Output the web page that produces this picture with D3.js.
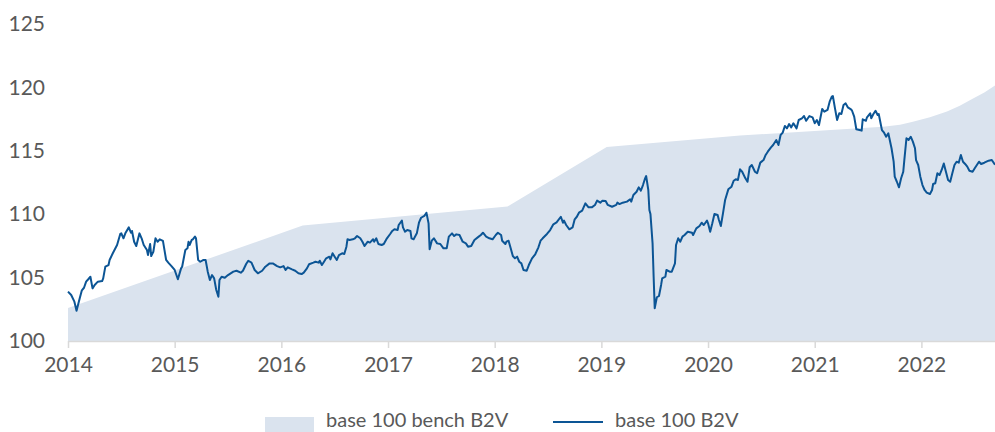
<!DOCTYPE html>
<html lang="en">
<head>
<meta charset="UTF-8">
<script src="https://d3js.org/d3.v7.min.js"></script>
<title>base 100 B2V</title>
<style>
  body { margin: 0; background: #fff; }
  text { font-family: Lato, "Open Sans", sans-serif; fill: #595959; }
</style>
</head>
<body>
<div id="chart"></div>
<script>
// tick labels
const yearTicks = [2014, 2015, 2016, 2017, 2018, 2019, 2020, 2021, 2022];
const valueTicks = [100, 105, 110, 115, 120, 125];

// benchmark (area)
const benchYears  = [2014.00, 2016.20, 2018.12, 2019.05, 2020.30, 2021.64, 2021.80, 2021.92, 2022.08, 2022.24, 2022.36, 2022.48, 2022.59, 2022.69];
const benchValues = [102.6,   109.1,   110.6,   115.3,   116.2,   116.9,   117.05,  117.3,   117.65,  118.1,   118.55,  119.1,   119.6,   120.15];

// B2V (line)
const b2vYears = [
  // 2014
  2014.00, 2014.03, 2014.06, 2014.08, 2014.11, 2014.13, 2014.15, 2014.17, 2014.19, 2014.21,
  2014.23, 2014.25, 2014.28, 2014.32, 2014.33, 2014.35, 2014.38, 2014.39, 2014.42, 2014.46,
  2014.49, 2014.50, 2014.52, 2014.54, 2014.57, 2014.59, 2014.60, 2014.62, 2014.64, 2014.67,
  2014.69, 2014.71, 2014.74, 2014.75, 2014.77, 2014.78, 2014.80, 2014.82, 2014.84, 2014.86,
  2014.89, 2014.92, 2014.94, 2014.97,
  // 2015
  2015.00, 2015.03, 2015.06, 2015.07, 2015.10, 2015.12, 2015.13, 2015.14, 2015.16, 2015.17,
  2015.19, 2015.20, 2015.22, 2015.24, 2015.27, 2015.29, 2015.31, 2015.33, 2015.35, 2015.37,
  2015.39, 2015.41, 2015.42, 2015.44, 2015.47, 2015.50, 2015.55, 2015.58, 2015.62, 2015.64,
  2015.67, 2015.69, 2015.72, 2015.75, 2015.78, 2015.82, 2015.85, 2015.89, 2015.92, 2015.96,
  2015.99,
  // 2016
  2016.02, 2016.04, 2016.06, 2016.10, 2016.13, 2016.16, 2016.19, 2016.21, 2016.24, 2016.26,
  2016.30, 2016.32, 2016.35, 2016.36, 2016.38, 2016.40, 2016.42, 2016.45, 2016.46, 2016.48,
  2016.50, 2016.52, 2016.54, 2016.57, 2016.59, 2016.61, 2016.62, 2016.64, 2016.67, 2016.69,
  2016.71, 2016.74, 2016.76, 2016.78, 2016.81, 2016.83, 2016.86, 2016.87, 2016.89, 2016.91,
  2016.94, 2016.96, 2016.99,
  // 2017
  2017.02, 2017.04, 2017.06, 2017.09, 2017.10, 2017.13, 2017.14, 2017.16, 2017.18, 2017.21,
  2017.22, 2017.24, 2017.27, 2017.29, 2017.31, 2017.34, 2017.36, 2017.38, 2017.39, 2017.41,
  2017.43, 2017.46, 2017.49, 2017.52, 2017.55, 2017.57, 2017.60, 2017.62, 2017.64, 2017.67,
  2017.70, 2017.73, 2017.75, 2017.78, 2017.81, 2017.85, 2017.87, 2017.89, 2017.92, 2017.95,
  2017.98,
  // 2018
  2018.01, 2018.03, 2018.06, 2018.07, 2018.10, 2018.11, 2018.13, 2018.15, 2018.17, 2018.19,
  2018.21, 2018.23, 2018.25, 2018.27, 2018.30, 2018.32, 2018.35, 2018.38, 2018.41, 2018.43,
  2018.45, 2018.49, 2018.52, 2018.55, 2018.58, 2018.62, 2018.64, 2018.65, 2018.67, 2018.70,
  2018.73, 2018.75, 2018.77, 2018.79, 2018.82, 2018.85, 2018.88, 2018.91, 2018.94, 2018.96,
  2018.99,
  // 2019
  2019.01, 2019.04, 2019.06, 2019.10, 2019.14, 2019.15, 2019.17, 2019.20, 2019.24, 2019.27,
  2019.28, 2019.30, 2019.33, 2019.35, 2019.37, 2019.39, 2019.41, 2019.42, 2019.44, 2019.45,
  2019.46, 2019.48, 2019.49, 2019.50, 2019.52, 2019.54, 2019.56, 2019.57, 2019.60, 2019.61,
  2019.64, 2019.66, 2019.69, 2019.70, 2019.72, 2019.74, 2019.76, 2019.78, 2019.81, 2019.85,
  2019.86, 2019.89, 2019.92, 2019.94, 2019.96, 2019.99,
  // 2020
  2020.00, 2020.02, 2020.04, 2020.06, 2020.09, 2020.10, 2020.12, 2020.14, 2020.16, 2020.19,
  2020.22, 2020.24, 2020.26, 2020.28, 2020.30, 2020.32, 2020.35, 2020.37, 2020.39, 2020.41,
  2020.44, 2020.46, 2020.49, 2020.52, 2020.54, 2020.56, 2020.59, 2020.61, 2020.64, 2020.66,
  2020.68, 2020.70, 2020.72, 2020.74, 2020.76, 2020.78, 2020.80, 2020.83, 2020.85, 2020.88,
  2020.90, 2020.92, 2020.95, 2020.98,
  // 2021
  2021.00, 2021.02, 2021.04, 2021.07, 2021.09, 2021.12, 2021.14, 2021.16, 2021.17, 2021.19,
  2021.21, 2021.23, 2021.25, 2021.27, 2021.29, 2021.31, 2021.34, 2021.35, 2021.37, 2021.39,
  2021.42, 2021.44, 2021.45, 2021.48, 2021.49, 2021.52, 2021.53, 2021.55, 2021.57, 2021.59,
  2021.60, 2021.63, 2021.65, 2021.67, 2021.69, 2021.70, 2021.72, 2021.74, 2021.75, 2021.77,
  2021.79, 2021.81, 2021.83, 2021.84, 2021.86, 2021.88, 2021.90, 2021.92, 2021.94, 2021.95,
  2021.97, 2021.99,
  // 2022
  2022.01, 2022.03, 2022.05, 2022.08, 2022.10, 2022.11, 2022.13, 2022.15, 2022.17, 2022.19,
  2022.21, 2022.23, 2022.25, 2022.27, 2022.29, 2022.31, 2022.33, 2022.35, 2022.37, 2022.39,
  2022.41, 2022.43, 2022.45, 2022.48, 2022.50, 2022.52, 2022.54, 2022.56, 2022.59, 2022.61,
  2022.63, 2022.66, 2022.69
];
const b2vValues = [
  // 2014
  103.89, 103.63, 103.10, 102.39, 103.37, 104.00, 104.20, 104.68, 104.87, 105.07,
  104.15, 104.42, 104.68, 104.73, 104.94, 105.86, 105.99, 106.39, 106.92, 107.57,
  108.44, 108.49, 108.10, 108.54, 108.96, 108.54, 108.68, 107.83, 107.49, 108.49,
  108.10, 107.57, 107.18, 106.78, 107.65, 106.70, 107.04, 108.10, 107.83, 108.02,
  107.89, 106.39, 106.18, 105.91,
  // 2015
  105.60, 104.87, 105.73, 105.86, 107.18, 107.31, 107.83, 107.57, 107.97, 108.02,
  108.23, 108.10, 106.39, 106.25, 106.39, 106.39, 105.47, 104.81, 105.20, 104.94,
  104.02, 103.49, 104.81, 105.07, 104.99, 105.20, 105.47, 105.54, 105.39, 105.54,
  106.07, 106.33, 106.18, 105.60, 105.34, 105.54, 105.86, 106.12, 106.12, 105.91,
  105.81,
  // 2016
  105.91, 105.60, 105.81, 105.65, 105.54, 105.34, 105.28, 105.39, 105.73, 106.05,
  106.18, 106.25, 106.18, 106.33, 105.99, 106.25, 106.52, 106.65, 106.44, 106.92,
  106.65, 106.39, 106.78, 106.92, 106.86, 107.44, 108.02, 107.97, 108.02, 108.10,
  108.28, 108.10, 107.83, 107.49, 107.83, 107.76, 108.02, 107.83, 108.10, 107.65,
  107.57, 107.65, 108.10,
  // 2017
  108.44, 108.68, 108.81, 108.75, 109.15, 109.49, 108.96, 108.62, 108.75, 108.68,
  108.10, 108.02, 108.49, 109.33, 109.72, 109.86, 110.12, 109.28, 107.23, 107.91,
  108.10, 107.70, 107.65, 107.31, 107.31, 108.23, 108.49, 108.28, 108.41, 108.36,
  107.83, 107.70, 107.44, 107.49, 107.97, 108.23, 108.36, 108.54, 108.23, 108.10,
  108.02,
  // 2018
  108.36, 108.54, 108.36, 107.91, 107.65, 107.83, 107.91, 107.31, 106.70, 106.52,
  106.65, 106.25, 106.12, 105.60, 105.54, 105.99, 106.52, 106.84, 107.39, 107.91,
  108.10, 108.44, 108.75, 109.20, 109.36, 109.80, 109.33, 109.49, 109.15, 108.81,
  108.96, 109.60, 109.80, 110.12, 110.28, 110.86, 110.54, 110.54, 110.73, 111.07,
  110.91,
  // 2019
  111.07, 111.04, 110.73, 110.59, 110.73, 110.91, 110.80, 110.91, 110.99, 111.18,
  110.99, 111.51, 111.77, 112.12, 111.85, 112.30, 112.83, 113.01, 111.91, 110.33,
  110.02, 107.70, 105.07, 102.58, 103.45, 103.55, 104.42, 104.94, 105.07, 105.60,
  105.47, 105.47, 106.12, 107.57, 108.10, 107.83, 108.23, 108.36, 108.62, 108.54,
  108.36, 108.88, 109.07, 109.33, 109.15, 109.49,
  // 2020
  109.28, 108.62, 109.28, 110.02, 109.94, 109.60, 109.07, 110.07, 111.12, 111.96,
  112.17, 112.64, 112.75, 112.70, 113.54, 113.35, 112.83, 112.56, 113.70, 113.88,
  113.35, 113.23, 114.07, 114.27, 114.67, 114.93, 115.27, 115.46, 115.85, 115.46,
  116.25, 116.43, 116.96, 116.77, 117.11, 116.85, 117.17, 116.77, 117.43, 117.56,
  117.74, 117.37, 117.74, 117.64,
  // 2021
  117.17, 117.43, 117.03, 118.30, 118.08, 118.22, 118.87, 119.27, 119.32, 118.35,
  117.43, 117.96, 117.90, 118.61, 118.74, 118.43, 118.27, 118.16, 117.69, 116.70,
  116.64, 116.59, 117.48, 117.37, 117.64, 117.96, 117.56, 117.90, 118.16, 117.82,
  117.90, 116.64, 116.43, 116.11, 116.38, 115.99, 115.20, 114.14, 112.96, 112.56,
  112.12, 112.83, 113.35, 114.27, 115.99, 115.85, 116.11, 115.72, 115.20, 114.27,
  113.88, 112.96,
  // 2022
  112.30, 111.91, 111.70, 111.59, 111.91, 112.38, 112.44, 113.23, 113.09, 113.49,
  114.00, 113.35, 112.70, 112.56, 113.23, 113.88, 114.14, 114.06, 114.67, 114.14,
  113.96, 113.75, 113.43, 113.35, 113.62, 113.88, 114.14, 113.96, 114.06, 114.14,
  114.22, 114.27, 113.90
];

const seriesNames = ["base 100 bench B2V", "base 100 B2V"];
const areaColor = "#dae3ee";
const lineColor = "#0c5595";

const W = 995, H = 432;
const margin = { top: 24, right: 0, bottom: 91, left: 68 };

const svg = d3.select("#chart").append("svg")
  .attr("width", W)
  .attr("height", H);

const x = d3.scaleLinear()
  .domain([2014, 2022.69])
  .range([margin.left, W - margin.right]);
const y = d3.scaleLinear()
  .domain([100, 125])
  .range([H - margin.bottom, margin.top]);

const bench = benchYears.map((yr, i) => ({ yr, v: benchValues[i] }));
const b2v = b2vYears.map((yr, i) => ({ yr, v: b2vValues[i] }));

// area
svg.append("path")
  .datum(bench)
  .attr("fill", areaColor)
  .attr("d", d3.area()
    .x(d => x(d.yr))
    .y0(y(100))
    .y1(d => y(d.v)));

// x axis
const xAxis = svg.append("g")
  .attr("transform", "translate(0," + y(100) + ")")
  .call(d3.axisBottom(x).tickValues(yearTicks).tickFormat(d3.format("d")).tickSize(7).tickSizeOuter(0).tickPadding(9));
xAxis.select(".domain").attr("stroke", "#d9d9d9").attr("stroke-width", 1.5);
xAxis.selectAll(".tick line").attr("stroke", "#d9d9d9").attr("stroke-width", 1.5);
xAxis.selectAll("text").attr("font-size", 21).attr("fill", "#595959").attr("font-family", "Lato, sans-serif");

// y axis (labels only)
const yAxis = svg.append("g")
  .attr("transform", "translate(45,0)")
  .call(d3.axisLeft(y).tickValues(valueTicks).tickSize(0).tickPadding(0));
yAxis.select(".domain").remove();
yAxis.selectAll("text").attr("font-size", 21).attr("fill", "#595959").attr("font-family", "Lato, sans-serif");

// line
svg.append("path")
  .datum(b2v)
  .attr("fill", "none")
  .attr("stroke", lineColor)
  .attr("stroke-width", 2)
  .attr("stroke-linejoin", "round")
  .attr("d", d3.line()
    .x(d => x(d.yr))
    .y(d => y(d.v)));

// legend
const legend = svg.append("g");
legend.append("rect")
  .attr("x", 265).attr("y", 417)
  .attr("width", 49).attr("height", 15)
  .attr("fill", areaColor);
legend.append("text")
  .attr("x", 326).attr("y", 427)
  .attr("font-size", 20)
  .text(seriesNames[0]);
legend.append("line")
  .attr("x1", 553).attr("x2", 603)
  .attr("y1", 422).attr("y2", 422)
  .attr("stroke", lineColor)
  .attr("stroke-width", 2);
legend.append("text")
  .attr("x", 615).attr("y", 427)
  .attr("font-size", 20)
  .text(seriesNames[1]);
</script>
</body>
</html>
